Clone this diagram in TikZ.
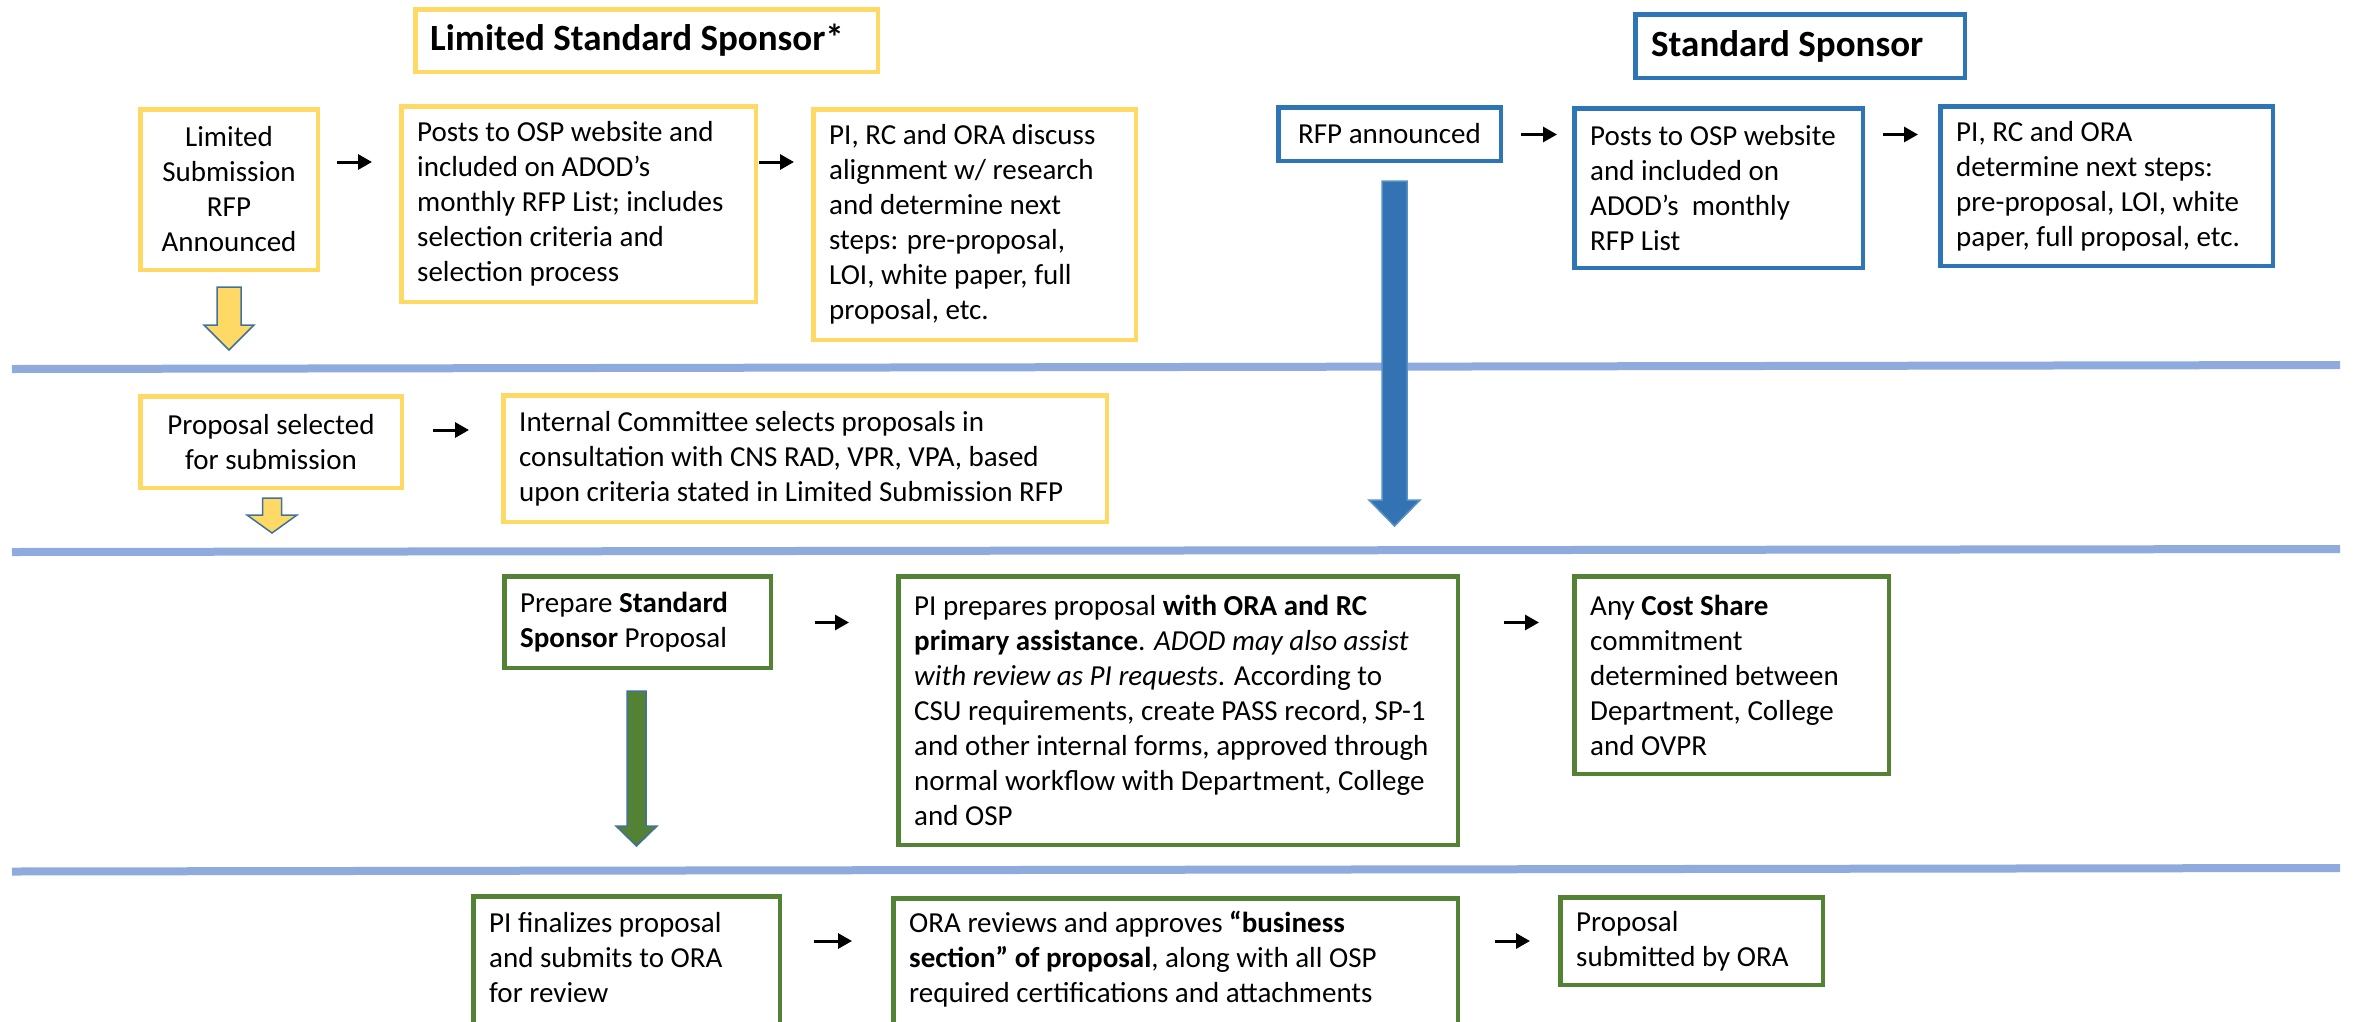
\documentclass[tikz,border=0pt]{standalone}
\usepackage{fontspec}
\setmainfont{Carlito}
\usetikzlibrary{arrows.meta,calc}
\definecolor{yb}{HTML}{FFD966}
\definecolor{bb}{HTML}{2E75B6}
\definecolor{gb}{HTML}{548235}
\definecolor{sepc}{HTML}{8FAADC}
\definecolor{arrl}{HTML}{41719C}
\definecolor{blkb}{HTML}{3373B3}
\begin{document}
\begin{tikzpicture}[x=1pt,y=-1pt,
  font=\fontsize{29}{35}\selectfont,
  box/.style={draw, line width=4.5pt, fill=white, inner sep=0pt},
  ybox/.style={box, draw=yb},
  bbox/.style={box, draw=bb},
  gbox/.style={box, draw=gb},
  txt/.style={anchor=west, align=left, inner sep=0pt},
  ttl/.style={txt, font=\fontsize{37}{44}\selectfont\bfseries},
  arr/.style={line width=3pt, -{Triangle[length=14pt,width=15pt]}},
  sepl/.style={line width=8pt, draw=sepc},
  yblk/.style={fill=yb, draw=arrl, line width=1.5pt, line join=miter},
  bblk/.style={fill=blkb, draw=bb!80!white, line width=1.5pt, line join=miter},
  gblk/.style={fill=gb, draw=arrl, line width=1.5pt, line join=miter}
]
\useasboundingbox (0,0) rectangle (2354,1021);

% separator lines
\draw[sepl] (12,369) -- (2340,365);
\draw[sepl] (12,552) -- (2340,549);
\draw[sepl] (12,871.5) -- (2340,868);

% row coordinates for arrows
\coordinate (r1) at (0,162);
\coordinate (r1b) at (0,134.5);
\coordinate (r2) at (0,430);
\coordinate (r3) at (0,622.5);
\coordinate (r4) at (0,941);

% block arrows
\filldraw[yblk] (217,287) -- (241,287) -- (241,325) -- (254,325) -- (229,350) -- (204,325) -- (217,325) -- cycle;
\filldraw[yblk] (262.5,498) -- (281.5,498) -- (281.5,515) -- (297,515) -- (272,533) -- (247,515) -- (262.5,515) -- cycle;
\filldraw[bblk] (1382,181) -- (1407,181) -- (1407,500) -- (1420,500) -- (1394.5,526) -- (1369,500) -- (1382,500) -- cycle;
\filldraw[gblk] (627,691) -- (646,691) -- (646,826) -- (657,826) -- (636.5,846) -- (616,826) -- (627,826) -- cycle;

% titles
\node[ybox, minimum width=462.5pt, minimum height=62.5pt] (t1) at (646.5,40.5) {};
\node[ttl] (t1t) at ([xshift=17pt]t1.west) {Limited Standard Sponsor*};
\node[bbox, minimum width=329.5pt, minimum height=63.5pt] (t2) at (1800,46) {};
\node[ttl] (t2t) at ([xshift=18pt]t2.west) {Standard Sponsor};

% row 1, limited
\node[ybox, minimum width=177.5pt, minimum height=160.5pt, align=center] (lim) at (229,189.5) {Limited\\Submission\\RFP\\Announced};
\node[ybox, minimum width=354.5pt, minimum height=195.5pt] (posts1) at (578.5,204) {};
\node[txt] (posts1t) at ([xshift=18pt]posts1.west) {Posts to OSP website and\\included on ADOD’s\\monthly RFP List; includes\\selection criteria and\\selection process};
\node[ybox, minimum width=322.5pt, minimum height=230.5pt] (disc) at (974.5,224.5) {};
\node[txt] (disct) at ([xshift=18pt]disc.west) {PI, RC and ORA discuss\\alignment w/ research\\and determine next\\steps: pre-proposal,\\LOI, white paper, full\\proposal, etc.};

% row 1, standard
\node[bbox, minimum width=222.5pt, minimum height=53.5pt, align=center] (rfp) at (1389.5,134) {RFP announced};
\node[bbox, minimum width=288.5pt, minimum height=159.5pt] (posts2) at (1718.5,188) {};
\node[txt] (posts2t) at ([xshift=18pt]posts2.west) {Posts to OSP website\\and included on\\ADOD’s\ \ monthly\\RFP List};
\node[bbox, minimum width=332.5pt, minimum height=159.5pt] (det) at (2106.5,186) {};
\node[txt] (dett) at ([xshift=18pt]det.west) {PI, RC and ORA\\determine next steps:\\pre-proposal, LOI, white\\paper, full proposal, etc.};

% row 2
\node[ybox, minimum width=261.5pt, minimum height=91.5pt, align=center] (sel) at (271,442) {Proposal selected\\for submission};
\node[ybox, minimum width=603.5pt, minimum height=126.5pt] (comm) at (805,458.5) {};
\node[txt] (commt) at ([xshift=18pt]comm.west) {Internal Committee selects proposals in\\consultation with CNS RAD, VPR, VPA, based\\upon criteria stated in Limited Submission RFP};

% row 3
\node[gbox, minimum width=266.5pt, minimum height=91.5pt] (prep) at (637.5,622) {};
\node[txt] (prept) at ([xshift=18pt]prep.west) {Prepare \textbf{Standard}\\\textbf{Sponsor} Proposal};
\node[gbox, minimum width=559.5pt, minimum height=268.5pt] (prepares) at (1178,710.5) {};
\node[txt] (preparest) at ([xshift=18pt]prepares.west) {PI prepares proposal \textbf{with ORA and RC}\\\textbf{primary assistance}. \textit{ADOD may also assist}\\\textit{with review as PI requests}. According to\\CSU requirements, create PASS record, SP-1\\and other internal forms, approved through\\normal workflow with Department, College\\and OSP};
\node[gbox, minimum width=314.5pt, minimum height=197.5pt] (cost) at (1731.5,675) {};
\node[txt] (costt) at ([xshift=18pt]cost.west) {Any \textbf{Cost Share}\\commitment\\determined between\\Department, College\\and OVPR};

% row 4 (lower two boxes run past the bottom edge)
\node[gbox, minimum width=306.5pt, minimum height=131.5pt] (fin) at (626.5,962) {};
\node[txt] (fint) at ([xshift=18pt,yshift=4pt]fin.west) {PI finalizes proposal\\and submits to ORA\\for review};
\node[gbox, minimum width=564.5pt, minimum height=129.5pt] (ora) at (1175.5,963) {};
\node[txt] (orat) at ([xshift=18pt,yshift=4pt]ora.west) {ORA reviews and approves \textbf{“business}\\\textbf{section” of proposal}, along with all OSP\\required certifications and attachments};
\node[gbox, minimum width=262.5pt, minimum height=87.5pt] (sub) at (1691.5,941) {};
\node[txt] (subt) at ([xshift=18pt]sub.west) {Proposal\\submitted by ORA};

% connectors
\draw[arr, shorten <=17pt, shorten >=27pt] (lim.east |- r1) -- (posts1.west |- r1);
\draw[arr, shorten <=1pt, shorten >=17pt] (posts1.east |- r1) -- (disc.west |- r1);
\draw[arr, shorten <=18pt, shorten >=15pt] (rfp.east |- r1b) -- (posts2.west |- r1b);
\draw[arr, shorten <=18pt, shorten >=20pt] (posts2.east |- r1b) -- (det.west |- r1b);
\draw[arr, shorten <=29pt, shorten >=32pt] (sel.east |- r2) -- (comm.west |- r2);
\draw[arr, shorten <=42pt, shorten >=47pt] (prep.east |- r3) -- (prepares.west |- r3);
\draw[arr, shorten <=44pt, shorten >=33pt] (prepares.east |- r3) -- (cost.west |- r3);
\draw[arr, shorten <=32pt, shorten >=39pt] (fin.east |- r4) -- (ora.west |- r4);
\draw[arr, shorten <=35pt, shorten >=28pt] (ora.east |- r4) -- (sub.west |- r4);
\end{tikzpicture}
\end{document}
